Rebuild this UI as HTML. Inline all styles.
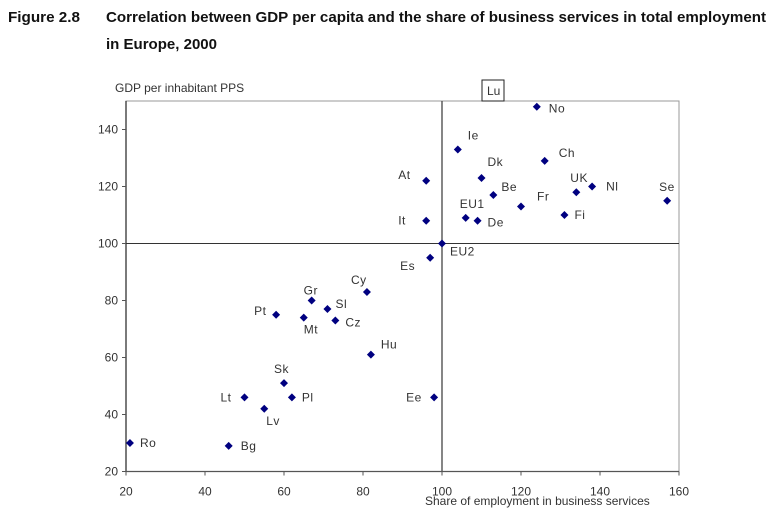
<!DOCTYPE html>
<html><head><meta charset="utf-8"><style>
body{margin:0;background:#fff;width:777px;height:521px;overflow:hidden;font-family:"Liberation Sans",sans-serif;}
svg text{font-family:"Liberation Sans",sans-serif;}
</style></head><body>
<svg id="chart" width="777" height="521" viewBox="0 0 777 521">
<text x="8" y="22" font-size="15" font-weight="bold" fill="#111" textLength="72" lengthAdjust="spacingAndGlyphs">Figure 2.8</text>
<text x="106" y="22" font-size="15" font-weight="bold" fill="#111" textLength="660" lengthAdjust="spacingAndGlyphs">Correlation between GDP per capita and the share of business services in total employment</text>
<text x="106" y="49" font-size="15" font-weight="bold" fill="#111" textLength="111" lengthAdjust="spacingAndGlyphs">in Europe, 2000</text>
<text x="115" y="92" font-size="12" fill="#333">GDP per inhabitant PPS</text>
<text x="425" y="505" font-size="12" fill="#333">Share of employment in business services</text>
<g id="plot"></g>
</svg>
<script>
const xTicks=[20,40,60,80,100,120,140,160];
const yTicks=[20,40,60,80,100,120,140];
const countries=["Ro","Bg","Lt","Lv","Pl","Sk","Pt","Mt","Gr","Sl","Cz","Cy","Hu","Ee","Es","EU2","It","At","Ie","EU1","De","Dk","Be","Fr","Ch","No","Fi","UK","Nl","Se"];
const shareValues=[21,46,50,55,62,60,58,65,67,71,73,81,82,98,97,100,96,96,104,106,109,110,113,120,126,124,131,134,138,157];
const gdpValues=[30,29,46,42,46,51,75,74,80,77,73,83,61,46,95,100,108,122,133,109,108,123,117,113,129,148,110,118,120,115];
const labelDx=[10,12,-24,2,10,-10,-22,0,-8,8,10,-16,10,-28,-30,8,-28,-28,10,-6,10,6,8,16,14,12,10,-6,14,-8];
const labelDy=[4,4,4,16,4,-10,0,16,-6,-1,6,-8,-6,4,12,12,4,-2,-10,-10,6,-12,-4,-6,-4,6,4,-10,4,-10];
const X0=126,X1=679,Y0=471.5,Y1=101;
const xs=v=>X0+(v-20)/(160-20)*(X1-X0);
const ys=v=>Y0-(v-20)/(150-20)*(Y0-Y1);
const g=document.getElementById('plot');
const NS='http://www.w3.org/2000/svg';
function mk(t,a){const e=document.createElementNS(NS,t);for(const k in a)e.setAttribute(k,a[k]);g.appendChild(e);return e;}
let e;
e=mk('rect',{x:X0,y:Y1,width:X1-X0,height:Y0-Y1,fill:'none',stroke:'#999','stroke-width':1});


e=mk('line',{x1:X0,y1:ys(100),x2:X1,y2:ys(100),stroke:'#333','stroke-width':1});


e=mk('line',{x1:xs(100),y1:Y1,x2:xs(100),y2:Y0,stroke:'#444','stroke-width':1.3});


e=mk('line',{x1:X0,y1:Y1,x2:X0,y2:Y0,stroke:'#333','stroke-width':1.3});


e=mk('line',{x1:X0,y1:Y0,x2:X1,y2:Y0,stroke:'#555','stroke-width':1.3});


xTicks.forEach(v=>{
 let t=mk('line',{x1:xs(v),y1:Y0,x2:xs(v),y2:Y0+4,stroke:'#555'});
 
 
 let l=mk('text',{x:xs(v),y:Y0+24,'font-size':12,fill:'#333','text-anchor':'middle'});l.textContent=v;
 
 
});
yTicks.forEach(v=>{
 let t=mk('line',{x1:X0-4,y1:ys(v),x2:X0,y2:ys(v),stroke:'#555'});
 
 
 let l=mk('text',{x:X0-8,y:ys(v)+4,'font-size':12,fill:'#333','text-anchor':'end'});l.textContent=v;
 
 
});
countries.forEach((c,i)=>{
 const cx=xs(shareValues[i]),cy=ys(gdpValues[i]);
 let p=mk('path',{d:`M${cx},${cy-4}L${cx+4},${cy}L${cx},${cy+4}L${cx-4},${cy}Z`,fill:'#000080'});
 
 
 let l=mk('text',{x:cx+labelDx[i],y:cy+labelDy[i],'font-size':12,fill:'#333','letter-spacing':'0.5'});l.textContent=c;
 
 
});
e=mk('rect',{x:482,y:80,width:22,height:21,fill:'#fff',stroke:'#222','stroke-width':1});


e=mk('text',{x:487,y:95,'font-size':12,fill:'#333'});e.textContent='Lu';


</script>
</body></html>
